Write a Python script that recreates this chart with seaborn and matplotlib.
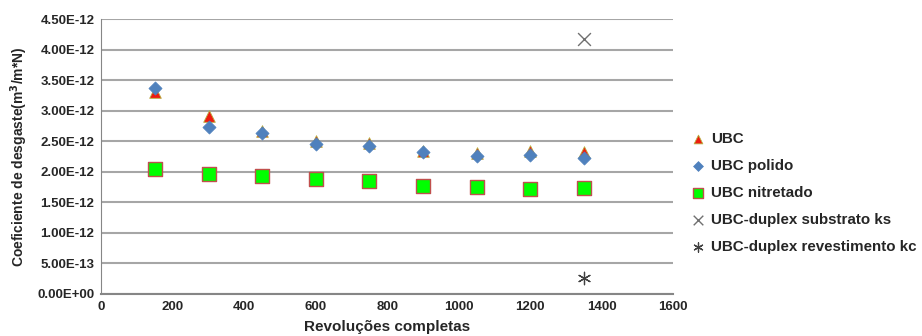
import pandas as pd
import seaborn as sns
import matplotlib.pyplot as plt
from matplotlib.ticker import FuncFormatter

# revolucoes
revolucoes = [150, 300, 450, 600, 750, 900, 1050, 1200, 1350]

# coeficiente de desgaste (x 1e-12)
ubc = [3.31, 2.92, 2.67, 2.51, 2.47, 2.34, 2.31, 2.34, 2.33]
ubc_polido = [3.38, 2.74, 2.64, 2.46, 2.43, 2.33, 2.26, 2.28, 2.23]
ubc_nitretado = [2.05, 1.97, 1.93, 1.89, 1.85, 1.77, 1.75, 1.72, 1.74]
duplex_ks_x = [1350]
duplex_ks = [4.18]
duplex_kc_x = [1350]
duplex_kc = [0.27]

sns.set_style("white")
plt.rcParams['font.family'] = ['Liberation Sans', 'DejaVu Sans']
plt.rcParams['font.weight'] = 'bold'

fig = plt.figure(figsize=(9.22, 3.36), dpi=100)
ax = fig.add_axes([0.110, 0.125, 0.620, 0.818])

def df(x, y):
    return pd.DataFrame({'x': x, 'y': [v * 1e-12 for v in y]})

sns.scatterplot(data=df(revolucoes, ubc), x='x', y='y', ax=ax, marker='^', s=70,
                color='#ee1c10', edgecolor='#b8b040', linewidth=0.6, label='UBC', zorder=3)
sns.scatterplot(data=df(revolucoes, ubc_polido), x='x', y='y', ax=ax, marker='D', s=45,
                color='#4f81bd', edgecolor='#4f81bd', linewidth=0.5, label='UBC polido', zorder=4)
sns.scatterplot(data=df(revolucoes, ubc_nitretado), x='x', y='y', ax=ax, marker='s', s=95,
                color='#00ff00', edgecolor='#c0504d', linewidth=1.0, label='UBC nitretado', zorder=3)
sns.scatterplot(data=df(duplex_ks_x, duplex_ks), x='x', y='y', ax=ax, marker='x', s=85,
                color='#707070', linewidth=1.0, label='UBC-duplex substrato ks', zorder=3)
sns.scatterplot(data=df(duplex_kc_x, duplex_kc), x='x', y='y', ax=ax, marker=(6, 2, 0), s=80,
                color='#404040', linewidth=0.9, label='UBC-duplex revestimento kc', zorder=3)

ax.set_xlim(0, 1600)
ax.set_ylim(0, 4.5e-12)
ax.set_xticks(range(0, 1601, 200))
ax.set_yticks([i * 0.5e-12 for i in range(10)])
ax.yaxis.set_major_formatter(FuncFormatter(lambda v, p: f"{v:.2E}".replace('E-0', 'E-')))
ax.grid(axis='y', color='#a6a6a6', linewidth=1.5)
ax.set_axisbelow(True)
for side in ['top', 'right']:
    ax.spines[side].set_visible(False)
ax.spines['left'].set_color('#868686')
ax.spines['bottom'].set_color('#868686')
ax.spines['bottom'].set_linewidth(1.5)
ax.tick_params(axis='both', labelsize=9.5, length=0, pad=5)
for t in ax.get_xticklabels() + ax.get_yticklabels():
    t.set_fontweight('bold')

ax.set_xlabel('Revoluções completas', fontsize=11, fontweight='bold', labelpad=5)
ax.set_ylabel('Coeficiente de desgaste(m$^\\mathbf{3}$/m*N)', fontsize=10, fontweight='bold', labelpad=5)

leg = ax.legend(loc='center left', bbox_to_anchor=(0.743, 0.425), bbox_transform=fig.transFigure,
                frameon=False, fontsize=10.9, handletextpad=0.4, labelspacing=0.85,
                borderaxespad=0, handlelength=0.9, markerscale=0.75)
for t in leg.get_texts():
    t.set_fontweight('bold')

fig.savefig('out.png', dpi=100)
